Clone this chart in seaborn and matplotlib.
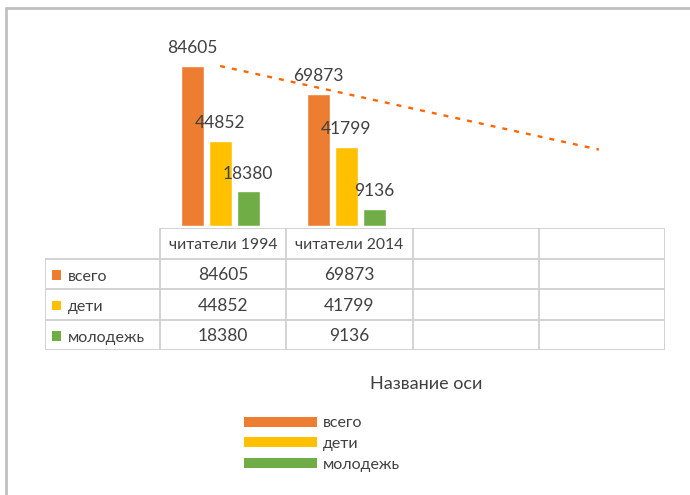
import numpy as np
import pandas as pd
import matplotlib
matplotlib.use("Agg")
import matplotlib.pyplot as plt
from matplotlib.patches import Rectangle
from matplotlib.lines import Line2D
import seaborn as sns

# Data
columns = ["читатели 1994", "читатели 2014", "", ""]
series = ["всего", "дети", "молодежь"]
total = [84605, 69873]
children = [44852, 41799]
youth = [18380, 9136]
colors = ["#ED7D31", "#FFC000", "#70AD47"]
trend_color = "#FF6600"
axis_title = "Название оси"

sns.set_style("white")
plt.rcParams['font.family'] = ['Lato', 'DejaVu Sans']
text_color = "#404040"
grid_color = "#D0D0D0"

W, H = 690, 495
fig = plt.figure(figsize=(W / 100, H / 100), dpi=100)

def px_axes(x0, y0, x1, y1):
    return fig.add_axes([x0 / W, 1 - y1 / H, (x1 - x0) / W, (y1 - y0) / H])

# long-form frame for seaborn
rows = []
for name, vals in zip(series, [total, children, youth]):
    for i, v in enumerate(vals):
        rows.append({"slot": i, "series": name, "value": v})
df = pd.DataFrame(rows)

n_slots = len(columns)
scale = 84605 / 160.0  # value per pixel
ax = px_axes(157, 226 - 100000 / scale, 662, 226)
sns.barplot(data=df, x="slot", y="value", hue="series", order=list(range(n_slots)),
            hue_order=series, palette=colors, width=0.665, gap=0.18,
            saturation=1, ax=ax, legend=False)
ax.set_ylim(0, 100000)
ax.set_xlim(-0.5, n_slots - 0.5)
for cont in ax.containers:
    ax.bar_label(cont, padding=7, fontsize=12.5, color=text_color)

# linear trendline for "всего"
z = np.polyfit(np.arange(len(total)), total, 1)
xs = np.arange(n_slots)
ax.plot(xs, np.polyval(z, xs), color=trend_color, lw=1.7,
        linestyle=(0, (2.1, 3.0)), zorder=5, clip_on=False)
ax.axis("off")

# data table
left_w = 115 / 126.25
tax = px_axes(45, 228, 665, 350)
tax.set_xlim(-0.5 - left_w, n_slots - 0.5)
tax.set_ylim(4, 0)
tax.axis("off")
lw = 1.3
tax.plot([-0.5, n_slots - 0.5], [0, 0], color=grid_color, lw=lw)
for r in range(1, 5):
    tax.plot([-0.5 - left_w, n_slots - 0.5], [r, r], color=grid_color, lw=lw)
tax.plot([-0.5 - left_w] * 2, [1, 4], color=grid_color, lw=lw)
for c in range(n_slots + 1):
    tax.plot([c - 0.5] * 2, [0, 4], color=grid_color, lw=lw)
for c, lab in enumerate(columns):
    tax.text(c, 0.55, lab, ha="center", va="center", fontsize=11.3, color=text_color)
for r, (name, vals, col) in enumerate(zip(series, [total, children, youth], colors), start=1):
    for c, v in enumerate(vals):
        tax.text(c, r + 0.55, str(v), ha="center", va="center", fontsize=12.5, color=text_color)
    x0 = -0.5 - left_w + 7 / 126.25
    tax.add_patch(Rectangle((x0, r + 0.38), 9 / 126.25, 0.32, color=col, lw=0))
    tax.text(x0 + 16 / 126.25, r + 0.6, name, ha="left", va="center", fontsize=11.5, color=text_color)

# axis title
fig.text(426 / W, 1 - 384 / H, axis_title, ha="center", va="center", fontsize=13, color=text_color)

# legend
handles = [Line2D([], [], color=c, lw=7.2, solid_capstyle="butt") for c in colors]
fig.legend(handles, series, loc="upper left", bbox_to_anchor=(244 / W, 1 - 416 / H),
           frameon=False, fontsize=11.5, handlelength=4.6, handletextpad=0.35,
           labelspacing=0.42, borderpad=0, borderaxespad=0, labelcolor=text_color)

# chart frame
fig.add_artist(Line2D([6 / W, 6 / W], [0, 1 - 8 / H], color="#C0C0C0", lw=2))
fig.add_artist(Line2D([6 / W, 1], [1 - 8 / H, 1 - 8 / H], color="#C0C0C0", lw=2))

fig.savefig("out.png", dpi=100)
